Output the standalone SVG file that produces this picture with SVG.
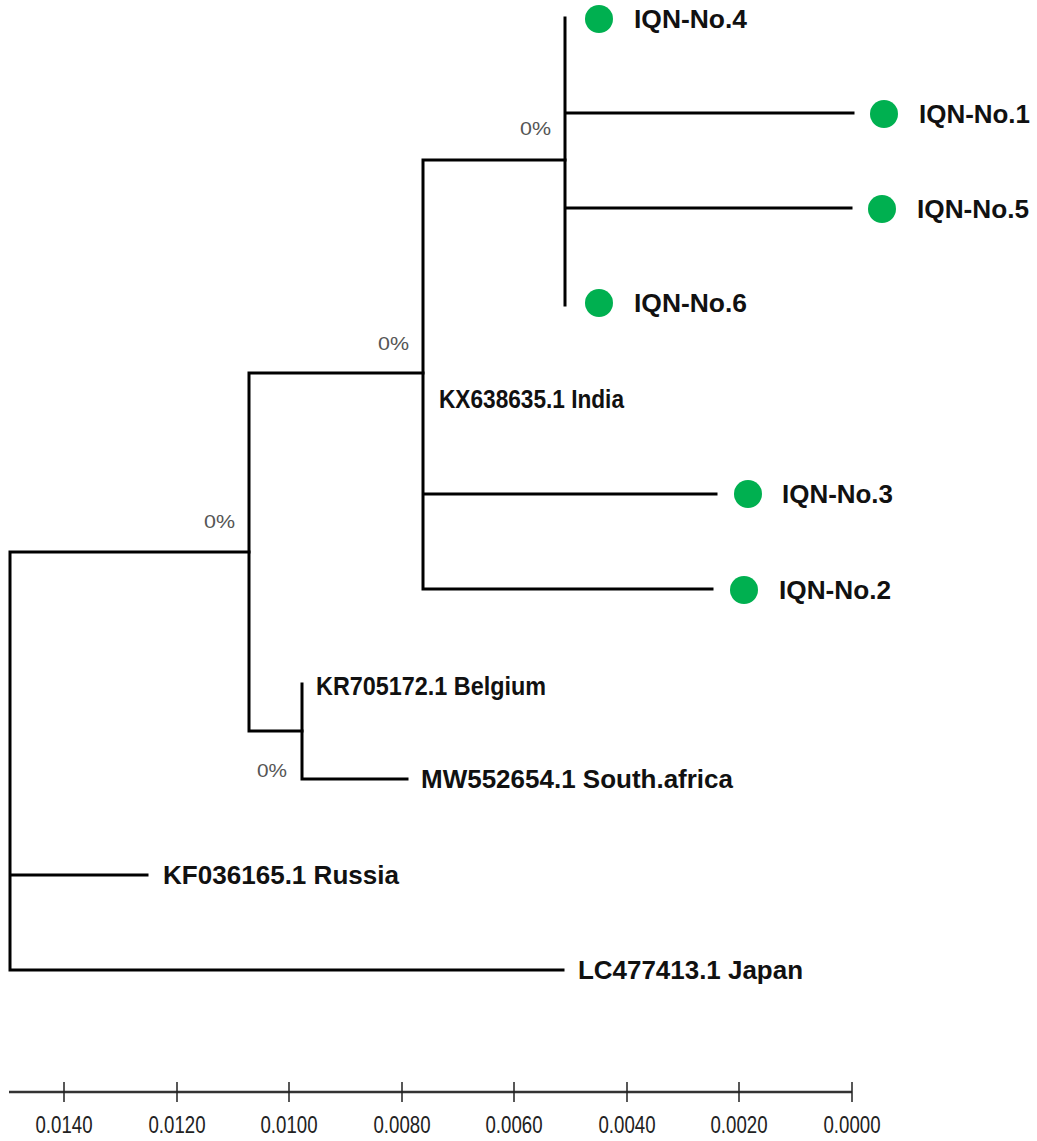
<svg xmlns="http://www.w3.org/2000/svg" width="1037" height="1141" viewBox="0 0 1037 1141">
<style>
.br{stroke:#000;stroke-width:3;fill:none;stroke-linecap:square}
.lab{font-family:"Liberation Sans",Arial,sans-serif;font-weight:bold;font-size:26.5px;fill:#111}
.bs{font-family:"Liberation Sans",Arial,sans-serif;font-size:18px;fill:#555}
.dot{fill:#00b050}
.ax{stroke:#333;stroke-width:2.5}
.tk{stroke:#222;stroke-width:1.5}
.tl{font-family:"Liberation Sans",Arial,sans-serif;font-size:24px;fill:#222;text-anchor:middle}
</style>
<rect width="1037" height="1141" fill="#fff"/>
<g id="connectors">
<path class="br" d="M10,552 V970 M10,552 H249 M10,875 H147 M10,970 H563"/>
<path class="br" d="M249,373 V731 M249,373 H423 M249,731 H302"/>
<path class="br" d="M302,684 V779 M302,779 H407"/>
<path class="br" d="M423,160 V589 M423,160 H565 M423,494 H716 M423,589 H712"/>
<path class="br" d="M565,18 V305 M565,113 H853 M565,208 H851"/>
</g>
<g id="support">
<text class="bs" x="520" y="135" textLength="31" lengthAdjust="spacingAndGlyphs">0%</text>
<text class="bs" x="378" y="350" textLength="31" lengthAdjust="spacingAndGlyphs">0%</text>
<text class="bs" x="204" y="528" textLength="31" lengthAdjust="spacingAndGlyphs">0%</text>
<text class="bs" x="257" y="777" textLength="30" lengthAdjust="spacingAndGlyphs">0%</text>
</g>
<g id="IQN-No.4"><circle class="dot" cx="599" cy="19" r="14"/><text class="lab" x="634" y="28" textLength="113" lengthAdjust="spacingAndGlyphs">IQN-No.4</text></g>
<g id="IQN-No.1"><circle class="dot" cx="884" cy="114" r="14"/><text class="lab" x="919" y="123" textLength="111" lengthAdjust="spacingAndGlyphs">IQN-No.1</text></g>
<g id="IQN-No.5"><circle class="dot" cx="882" cy="209" r="14"/><text class="lab" x="917" y="218" textLength="112" lengthAdjust="spacingAndGlyphs">IQN-No.5</text></g>
<g id="IQN-No.6"><circle class="dot" cx="599" cy="303" r="14"/><text class="lab" x="634" y="312" textLength="113" lengthAdjust="spacingAndGlyphs">IQN-No.6</text></g>
<g id="India"><text class="lab" x="439" y="408" textLength="185" lengthAdjust="spacingAndGlyphs">KX638635.1 India</text></g>
<g id="IQN-No.3"><circle class="dot" cx="748" cy="494" r="14"/><text class="lab" x="782" y="503" textLength="111" lengthAdjust="spacingAndGlyphs">IQN-No.3</text></g>
<g id="IQN-No.2"><circle class="dot" cx="744" cy="590" r="14"/><text class="lab" x="779" y="599" textLength="112" lengthAdjust="spacingAndGlyphs">IQN-No.2</text></g>
<g id="Belgium"><text class="lab" x="316" y="695" textLength="230" lengthAdjust="spacingAndGlyphs">KR705172.1 Belgium</text></g>
<g id="South.africa"><text class="lab" x="421" y="788" textLength="312" lengthAdjust="spacingAndGlyphs">MW552654.1 South.africa</text></g>
<g id="Russia"><text class="lab" x="163" y="884" textLength="236" lengthAdjust="spacingAndGlyphs">KF036165.1 Russia</text></g>
<g id="Japan"><text class="lab" x="578" y="979" textLength="225" lengthAdjust="spacingAndGlyphs">LC477413.1 Japan</text></g>
<g id="axis">
<line class="ax" x1="9" y1="1092" x2="852" y2="1092"/>
<path class="tk" d="M64,1082 V1102 M177,1082 V1102 M289,1082 V1102 M402,1082 V1102 M514,1082 V1102 M627,1082 V1102 M739,1082 V1102 M852,1082 V1102"/>
<text class="tl" x="64" y="1133" textLength="57" lengthAdjust="spacingAndGlyphs">0.0140</text>
<text class="tl" x="177" y="1133" textLength="57" lengthAdjust="spacingAndGlyphs">0.0120</text>
<text class="tl" x="289" y="1133" textLength="57" lengthAdjust="spacingAndGlyphs">0.0100</text>
<text class="tl" x="402" y="1133" textLength="57" lengthAdjust="spacingAndGlyphs">0.0080</text>
<text class="tl" x="514" y="1133" textLength="57" lengthAdjust="spacingAndGlyphs">0.0060</text>
<text class="tl" x="627" y="1133" textLength="57" lengthAdjust="spacingAndGlyphs">0.0040</text>
<text class="tl" x="739" y="1133" textLength="57" lengthAdjust="spacingAndGlyphs">0.0020</text>
<text class="tl" x="852" y="1133" textLength="57" lengthAdjust="spacingAndGlyphs">0.0000</text>
</g>
</svg>
